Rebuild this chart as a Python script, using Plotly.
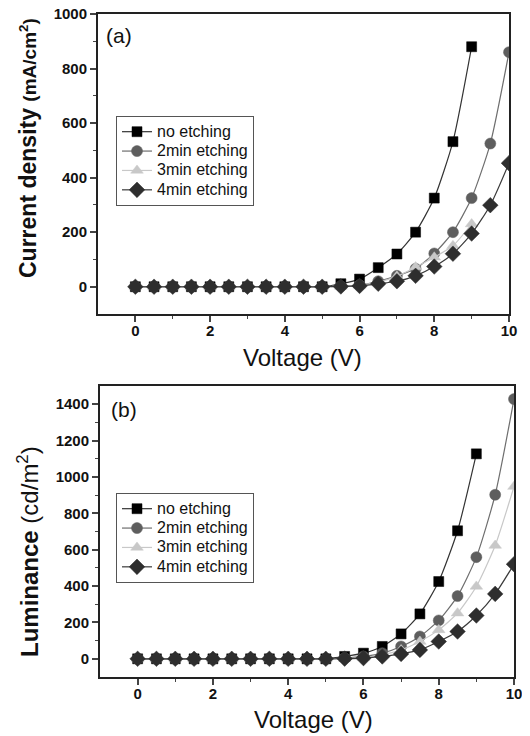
import plotly.graph_objects as go

voltage = [0, 0.5, 1, 1.5, 2, 2.5, 3, 3.5, 4, 4.5, 5, 5.5, 6, 6.5, 7, 7.5, 8, 8.5, 9, 9.5, 10]
series_names = ["no etching", "2min etching", "3min etching", "4min etching"]

# (a) current density, mA/cm2
j_no = [0, 0, 0, 0, 0, 0, 0, 0, 0, 0, 0, 11, 28, 70, 120, 200, 325, 532, 880]
j_2min = [0, 0, 0, 0, 0, 0, 0, 0, 0, 0, 0, 2, 6, 20, 40, 66, 122, 200, 325, 525, 860]
j_3min = [0, 0, 0, 0, 0, 0, 0, 0, 0, 0, 0, 1, 5, 17, 38, 72, 108, 150, 230]
j_4min = [0, 0, 0, 0, 0, 0, 0, 0, 0, 0, 0, 1, 3, 11, 20, 40, 74, 121, 195, 299, 453]

# (b) luminance, cd/m2
l_no = [0, 0, 0, 0, 0, 0, 0, 0, 0, 0, 0, 13, 31, 68, 137, 247, 425, 704, 1127]
l_2min = [0, 0, 0, 0, 0, 0, 0, 0, 0, 0, 0, 4, 13, 31, 68, 123, 211, 345, 559, 902, 1428]
l_3min = [0, 0, 0, 0, 0, 0, 0, 0, 0, 0, 0, 2, 7, 22, 49, 95, 159, 251, 398, 623, 947]
l_4min = [0, 0, 0, 0, 0, 0, 0, 0, 0, 0, 0, 1, 4, 13, 27, 49, 95, 150, 238, 357, 520]

colors = ["#000000", "#5e5e5e", "#c8c8c8", "#2e2e2e"]
line_colors = ["#333333", "#6e6e6e", "#c8c8c8", "#3a3a3a"]
symbols = ["square", "circle", "triangle-up", "diamond"]
sizes = [10, 11, 11, 12]

FONT = "Arial, Liberation Sans"
W, H = 530, 736
OFF = 8  # page body margin offset


def fx(px):
    return (px - OFF) / W


def fy(px):
    return 1 - (px - OFF) / H


def legend_label(s):
    return "<span style='font-size:16px'>%s</span>" % s


fig = go.Figure()

panel_a = [j_no, j_2min, j_3min, j_4min]
panel_b = [l_no, l_2min, l_3min, l_4min]

for i, ys in enumerate(panel_a):
    fig.add_trace(go.Scatter(
        x=voltage[:len(ys)], y=ys, name=legend_label(series_names[i]), mode="lines+markers",
        line=dict(color=line_colors[i], width=1.2, shape="spline", smoothing=0.6),
        marker=dict(symbol=symbols[i], size=sizes[i], color=colors[i],
                    line=dict(color=colors[i], width=0.5)),
        xaxis="x", yaxis="y", legend="legend", cliponaxis=True))

for i, ys in enumerate(panel_b):
    fig.add_trace(go.Scatter(
        x=voltage[:len(ys)], y=ys, name=legend_label(series_names[i]), mode="lines+markers",
        line=dict(color=line_colors[i], width=1.2, shape="spline", smoothing=0.6),
        marker=dict(symbol=symbols[i], size=sizes[i], color=colors[i],
                    line=dict(color=colors[i], width=0.5)),
        xaxis="x2", yaxis="y2", legend="legend2", cliponaxis=True))

tickfont = dict(family=FONT, size=15, color="#111111")
common_x = dict(range=[-1, 10], tickvals=[0, 2, 4, 6, 8, 10], ticks="outside", ticklen=6,
                tickwidth=1.5, showline=True, linewidth=2, linecolor="#222222", mirror=True,
                showgrid=False, zeroline=False, tickfont=tickfont, automargin=False,
                ticklabeloverflow="allow", ticklabelstandoff=-4,
                minor=dict(tickvals=[1, 3, 5, 7, 9], ticks="outside", ticklen=3, tickwidth=1))
common_y = dict(ticks="outside", ticklen=6, tickwidth=1.5, showline=True, linewidth=2,
                linecolor="#222222", mirror=True, showgrid=False, zeroline=False, tickfont=tickfont,
                automargin=False, ticklabeloverflow="allow")

lab = lambda s: "<b>%s</b>" % s

legend_common = dict(xanchor="left", yanchor="top", bgcolor="white",
                     bordercolor="#555555", borderwidth=1, font=dict(size=12.6, family=FONT),
                     tracegroupgap=0, itemwidth=30)

fig.update_layout(
    template="none",
    width=W, height=H, margin=dict(l=0, r=0, t=0, b=0, pad=0, autoexpand=False),
    paper_bgcolor="white", plot_bgcolor="white",
    font=dict(family=FONT, color="#111111"),
    xaxis=dict(domain=[fx(98), fx(509)], anchor="y", **common_x,
               ticktext=[lab(v) for v in ["0", "2", "4", "6", "8", "10"]]),
    yaxis=dict(domain=[fy(314), fy(14)], anchor="x", range=[-100, 1000],
               tickvals=[0, 200, 400, 600, 800, 1000],
               ticktext=[lab(v) for v in ["0", "200", "400", "600", "800", "1000"]],
               minor=dict(tickvals=[100, 300, 500, 700, 900], ticks="outside", ticklen=3, tickwidth=1),
               **common_y),
    xaxis2=dict(domain=[fx(100), fx(514)], anchor="y2", **common_x,
                ticktext=[lab(v) for v in ["0", "2", "4", "6", "8", "10"]]),
    yaxis2=dict(domain=[fy(677), fy(386)], anchor="x2", range=[-100, 1500],
                tickvals=[0, 200, 400, 600, 800, 1000, 1200, 1400],
                ticktext=[lab(v) for v in ["0", "200", "400", "600", "800", "1000", "1200", "1400"]],
                minor=dict(tickvals=[100, 300, 500, 700, 900, 1100, 1300], ticks="outside", ticklen=3, tickwidth=1),
                **common_y),
    legend=dict(x=fx(116), y=fy(116), **legend_common),
    legend2=dict(x=fx(116), y=fy(493), **legend_common),
    showlegend=True,
)
fig.update_xaxes(tickmode="array")

annotations = [
    dict(text="(a)", x=fx(104), y=fy(35), xref="paper", yref="paper", showarrow=False,
         font=dict(size=21, family=FONT), xanchor="left", yanchor="middle"),
    dict(text="(b)", x=fx(109), y=fy(409), xref="paper", yref="paper", showarrow=False,
         font=dict(size=21, family=FONT), xanchor="left", yanchor="middle"),
    dict(text="Voltage (V)", x=fx(302), y=fy(357), xref="paper", yref="paper", showarrow=False,
         font=dict(size=24, family=FONT), xanchor="center", yanchor="middle"),
    dict(text="Voltage (V)", x=fx(313), y=fy(719), xref="paper", yref="paper", showarrow=False,
         font=dict(size=24, family=FONT), xanchor="center", yanchor="middle"),
    dict(text="<b>Current density</b> <span style='font-size:19px'><b>(mA/cm<sup>2</sup>)</b></span>",
         x=fx(28), y=fy(148), xref="paper", yref="paper", showarrow=False, textangle=-90,
         font=dict(size=23, family=FONT), xanchor="center", yanchor="middle"),
    dict(text="<b>Luminance</b> (cd/m<sup>2</sup>)",
         x=fx(28), y=fy(552), xref="paper", yref="paper", showarrow=False, textangle=-90,
         font=dict(size=24, family=FONT), xanchor="center", yanchor="middle"),
]
fig.update_layout(annotations=annotations)

fig.write_html("out.html")
